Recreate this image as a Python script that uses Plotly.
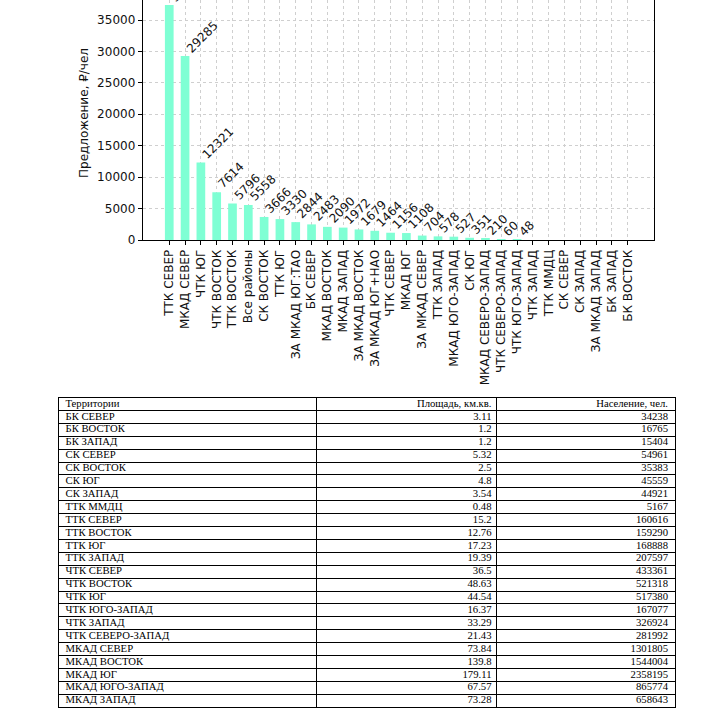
import plotly.graph_objects as go

# ---- bar chart data ----
categories = ["ТТК СЕВЕР", "МКАД СЕВЕР", "ЧТК ЮГ", "ЧТК ВОСТОК", "ТТК ВОСТОК", "Все районы",
              "СК ВОСТОК", "ТТК ЮГ", "ЗА МКАД ЮГ:ТАО", "БК СЕВЕР", "МКАД ВОСТОК", "МКАД ЗАПАД",
              "ЗА МКАД ВОСТОК", "ЗА МКАД ЮГ+НАО", "ЧТК СЕВЕР", "МКАД ЮГ", "ЗА МКАД СЕВЕР",
              "ТТК ЗАПАД", "МКАД ЮГО-ЗАПАД", "СК ЮГ", "МКАД СЕВЕРО-ЗАПАД", "ЧТК СЕВЕРО-ЗАПАД",
              "ЧТК ЮГО-ЗАПАД", "ЧТК ЗАПАД", "ТТК ММДЦ", "СК СЕВЕР", "СК ЗАПАД", "ЗА МКАД ЗАПАД",
              "БК ЗАПАД", "БК ВОСТОК"]
offer_values = [37380, 29285, 12321, 7614, 5796, 5558, 3666, 3330, 2844, 2483, 2090, 1972,
                1679, 1464, 1156, 1108, 704, 578, 527, 351, 210, 60, 48, 0, 0, 0, 0, 0, 0, 0]
y_ticks = [0, 5000, 10000, 15000, 20000, 25000, 30000, 35000]

# ---- table data ----
territories = ["БК СЕВЕР", "БК ВОСТОК", "БК ЗАПАД", "СК СЕВЕР", "СК ВОСТОК", "СК ЮГ", "СК ЗАПАД",
               "ТТК ММДЦ", "ТТК СЕВЕР", "ТТК ВОСТОК", "ТТК ЮГ", "ТТК ЗАПАД", "ЧТК СЕВЕР",
               "ЧТК ВОСТОК", "ЧТК ЮГ", "ЧТК ЮГО-ЗАПАД", "ЧТК ЗАПАД", "ЧТК СЕВЕРО-ЗАПАД",
               "МКАД СЕВЕР", "МКАД ВОСТОК", "МКАД ЮГ", "МКАД ЮГО-ЗАПАД", "МКАД ЗАПАД"]
area_km2 = ["3.11", "1.2", "1.2", "5.32", "2.5", "4.8", "3.54", "0.48", "15.2", "12.76", "17.23",
            "19.39", "36.5", "48.63", "44.54", "16.37", "33.29", "21.43", "73.84", "139.8",
            "179.11", "67.57", "73.28"]
population = ["34238", "16765", "15404", "54961", "35383", "45559", "44921", "5167", "160616",
              "159290", "168888", "207597", "433361", "521318", "517380", "167077", "326924",
              "281992", "1301805", "1544004", "2358195", "865774", "658643"]
table_header = ["Территории", "Площадь, км.кв.", "Население, чел."]

W, H = 707, 708
font_sans = "DejaVu Sans"
font_serif = "Liberation Serif"

fig = go.Figure()

# ---------------- bar chart ----------------
fig.add_trace(go.Bar(
    x=categories, y=offer_values,
    marker=dict(color="#7fffd4", line=dict(width=0)),
    width=0.55, xaxis="x", yaxis="y", showlegend=False, hoverinfo="x+y",
))

for c, v in zip(categories, offer_values):
    if v > 0:
        fig.add_annotation(x=c, y=v, xref="x", yref="y", text=str(v), showarrow=False,
                           textangle=-45, xanchor="left", yanchor="bottom",
                           xshift=-4, yshift=-2,
                           font=dict(family=font_sans, size=12, color="#111"))

fig.add_annotation(x=84 / W, y=1 - 113 / H, xref="paper", yref="paper",
                   xanchor="center", yanchor="middle",
                   text="Предложение, ₽/чел", textangle=-90, showarrow=False,
                   font=dict(family=font_sans, size=12, color="#111"))

# ---------------- table (text on its own axes, borders as grid) ----------------
col_widths = [257.5, 180.0, 179.0]
col_edges = [0.0]
for w in col_widths:
    col_edges.append(col_edges[-1] + w)
n_rows = len(territories) + 1
row_h = 12.9
tbl_top = 397.5
tbl_bottom = tbl_top + n_rows * row_h

rows_idx = list(range(n_rows))
col1 = [table_header[0]] + territories
col2 = [table_header[1]] + area_km2
col3 = [table_header[2]] + population
pad_l, pad_r2, pad_r3 = 7.0, 4.5, 7.0

tfont = dict(family=font_serif, size=10.7, color="black")
fig.add_trace(go.Scatter(x=[col_edges[0] + pad_l] * n_rows, y=rows_idx, text=col1,
                         mode="text", textposition="middle right", textfont=tfont,
                         xaxis="x2", yaxis="y2", showlegend=False, hoverinfo="skip"))
fig.add_trace(go.Scatter(x=[col_edges[2] - pad_r2] * n_rows, y=rows_idx, text=col2,
                         mode="text", textposition="middle left", textfont=tfont,
                         xaxis="x2", yaxis="y2", showlegend=False, hoverinfo="skip"))
fig.add_trace(go.Scatter(x=[col_edges[3] - pad_r3] * n_rows, y=rows_idx, text=col3,
                         mode="text", textposition="middle left", textfont=tfont,
                         xaxis="x2", yaxis="y2", showlegend=False, hoverinfo="skip"))

fig.update_layout(
    width=W, height=H,
    margin=dict(l=0, r=0, t=0, b=0),
    paper_bgcolor="white", plot_bgcolor="white",
    xaxis=dict(domain=[142.7 / W, 654.3 / W], anchor="y",
               range=[-1.68, len(categories) - 1 + 1.68],
               tickangle=-90, ticks="outside", ticklen=4, tickcolor="black",
               tickfont=dict(family=font_sans, size=12, color="#111"),
               showgrid=True, gridcolor="#cfcfcf", griddash="dot", gridwidth=1,
               showline=True, linecolor="black", linewidth=1, mirror=False,
               automargin=False, fixedrange=True),
    yaxis=dict(domain=[1 - 240 / H, 1], anchor="x",
               range=[0, 35000 * 240 / 220],
               tickvals=y_ticks, tickformat="d", ticks="outside", ticklen=4, tickcolor="black",
               tickfont=dict(family=font_sans, size=12, color="#111"),
               showgrid=True, gridcolor="#cfcfcf", griddash="dot", gridwidth=1,
               showline=True, linecolor="black", linewidth=1, mirror=True,
               zeroline=False, automargin=False, fixedrange=True),
    xaxis2=dict(domain=[58.5 / W, (58.5 + col_edges[-1]) / W], anchor="y2",
                range=[col_edges[0], col_edges[-1]],
                tickvals=col_edges, showticklabels=False, ticks="",
                showgrid=True, gridcolor="black", gridwidth=1,
                showline=True, linecolor="black", linewidth=1, mirror=True,
                zeroline=False, automargin=False, fixedrange=True),
    yaxis2=dict(domain=[max(0, 1 - tbl_bottom / H), 1 - tbl_top / H], anchor="x2",
                range=[n_rows - 0.5, -0.5],
                tickvals=[i - 0.5 for i in range(n_rows + 1)], showticklabels=False, ticks="",
                showgrid=True, gridcolor="black", gridwidth=1,
                showline=True, linecolor="black", linewidth=1, mirror=True,
                zeroline=False, automargin=False, fixedrange=True),
)

fig.write_html("out.html", config={"displayModeBar": False},
               post_script="document.body.style.margin='0px';document.body.style.overflow='hidden';")
